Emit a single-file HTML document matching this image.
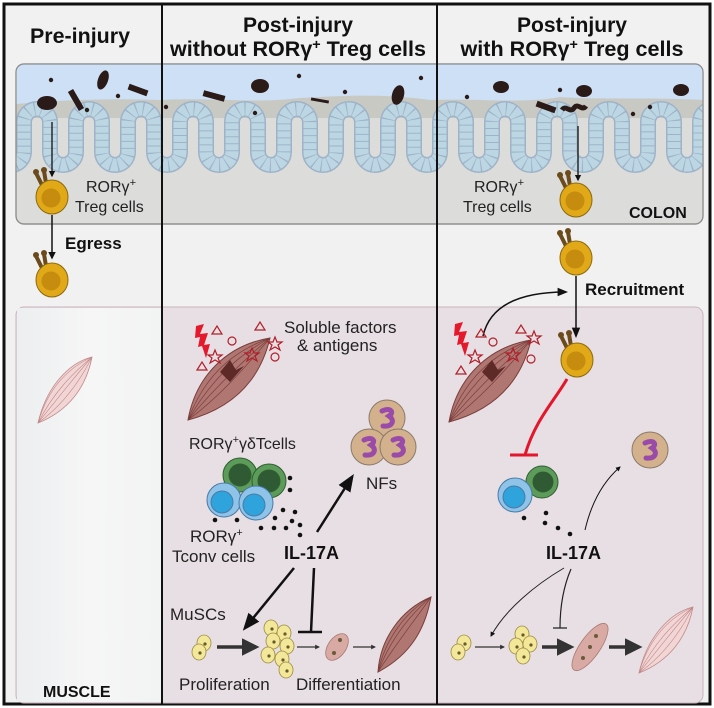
<!DOCTYPE html>
<html><head><meta charset="utf-8"><style>
html,body{margin:0;padding:0;background:#fff;}
svg{display:block;font-family:"Liberation Sans",sans-serif;}
</style></head><body>
<svg width="714" height="708" viewBox="0 0 714 708" xmlns="http://www.w3.org/2000/svg">
<defs>
<linearGradient id="lg" x1="0" x2="1"><stop offset="0" stop-color="#eceeef"/><stop offset="0.5" stop-color="#f6f6f6"/><stop offset="1" stop-color="#f2f3f3"/></linearGradient>
<clipPath id="cc"><rect x="16" y="64" width="687" height="160" rx="8"/></clipPath>
<path id="crypt" fill="none" d="M-2,122 v30 a13 13 0 0 0 26 0 v-30 a13 13 0 0 1 26 0 v30 a13 13 0 0 0 26 0 v-30 a13 13 0 0 1 26 0 v30 a13 13 0 0 0 26 0 v-30 a13 13 0 0 1 26 0 v30 a13 13 0 0 0 26 0 v-30 a13 13 0 0 1 26 0 v30 a13 13 0 0 0 26 0 v-30 a13 13 0 0 1 26 0 v30 a13 13 0 0 0 26 0 v-30 a13 13 0 0 1 26 0 v30 a13 13 0 0 0 26 0 v-30 a13 13 0 0 1 26 0 v30 a13 13 0 0 0 26 0 v-30 a13 13 0 0 1 26 0 v30 a13 13 0 0 0 26 0 v-30 a13 13 0 0 1 26 0 v30 a13 13 0 0 0 26 0 v-30 a13 13 0 0 1 26 0 v30 a13 13 0 0 0 26 0 v-30 a13 13 0 0 1 26 0 v30 a13 13 0 0 0 26 0 v-30 a13 13 0 0 1 26 0 v30 a13 13 0 0 0 26 0 v-30 a13 13 0 0 1 26 0 v30 a13 13 0 0 0 26 0 v-30 a13 13 0 0 1 26 0"/>
<marker id="ah" viewBox="0 0 10 10" refX="8" refY="5" markerWidth="5" markerHeight="5" orient="auto"><path d="M0,0 L10,5 L0,10 z" fill="#111"/></marker>
<marker id="ahs" viewBox="0 0 10 10" refX="8" refY="5" markerWidth="7" markerHeight="7" orient="auto"><path d="M0,1 L10,5 L0,9 z" fill="#111"/></marker>
<marker id="ahg" viewBox="0 0 10 10" refX="8" refY="5" markerWidth="4" markerHeight="4" orient="auto"><path d="M0,0 L10,5 L0,10 z" fill="#333"/></marker>
<marker id="ahd" viewBox="0 0 10 10" refX="8" refY="5" markerWidth="5" markerHeight="5" orient="auto"><path d="M0,0 L10,5 L0,10 z" fill="#333"/></marker>
<g id="treg"><path d="M-10,-12 L-16,-24 M-6,-14 L-8,-26" stroke="#6b4a1c" stroke-width="4" stroke-linecap="round"/><circle cx="-16" cy="-25" r="3" fill="#6b4a1c"/><circle cx="-8" cy="-27" r="3" fill="#6b4a1c"/><ellipse cx="0" cy="0" rx="16" ry="17" fill="#e1a917" stroke="#8a6a10" stroke-width="1"/><circle cx="-1" cy="1" r="9.5" fill="#c58c0f"/></g>
<g id="musc"><path d="M0,0 C8,-45 40,-75 82,-82 C72,-40 45,-12 0,0 z" fill="#b07672" stroke="#7a3f3c" stroke-width="1"/><path d="M0,0 C20,-35 45,-62 82,-82 M0,0 C25,-30 50,-55 82,-82 M0,0 C30,-22 55,-50 82,-82 M0,0 C15,-40 40,-67 82,-82" stroke="#7a3f3c" stroke-width="0.7" fill="none"/></g>
<g id="pmusc"><path d="M0,0 C8,-35 30,-60 54,-66 C48,-35 30,-12 0,0 z" fill="#f2d6d6" stroke="#c28a8a" stroke-width="0.8"/><path d="M0,0 C15,-30 35,-50 54,-66 M0,0 C20,-25 38,-48 54,-66 M0,0 C25,-18 42,-42 54,-66 M0,0 C10,-35 30,-55 54,-66" stroke="#c28a8a" stroke-width="0.6" fill="none"/></g>
<g id="nf"><circle r="18" fill="#d3b18c" stroke="#8a7a6a" stroke-width="1"/><path d="M-5,-7 C3,-11 8,-6 2,-2 C8,2 6,9 -4,8" stroke="#9a4aa8" stroke-width="5" fill="none" stroke-linecap="round"/></g>
<g id="yc"><ellipse rx="7" ry="8" fill="#f3e79a" stroke="#9a8a40" stroke-width="0.8"/><circle cx="1" cy="1" r="1.6" fill="#6a5a2a"/></g>
</defs>
<rect width="714" height="708" fill="#fff"/>
<rect x="4" y="4" width="706" height="700" fill="#f1f1f1" stroke="#111" stroke-width="3"/>
<!-- colon -->
<rect x="16" y="64" width="687" height="160" rx="8" fill="#dcdcdb" stroke="#8d8d8d" stroke-width="1.2"/>
<g clip-path="url(#cc)">
<rect x="16" y="64" width="687" height="48" fill="#cde0f5"/>
<path d="M16,104 C60,100 110,98 160,100 C220,97 250,104 300,98 C340,96 380,93 430,100 C480,98 520,104 560,97 C600,100 650,97 703,100 L703,118 L16,118 z" fill="#c9c9c4"/>
<use href="#crypt" stroke="#9fb3c8" stroke-width="16"/>
<use href="#crypt" stroke="#bcd7e3" stroke-width="13" stroke-dasharray="6 1"/>
</g>
<rect x="16" y="64" width="687" height="160" rx="8" fill="none" stroke="#8d8d8d" stroke-width="1.2"/>
<!-- microbes -->
<g fill="#2a1a18">
<circle cx="51" cy="80" r="2.2"/><circle cx="118" cy="96" r="2.2"/><circle cx="87" cy="110" r="2.2"/><circle cx="166" cy="107" r="2.2"/><circle cx="299" cy="76" r="2.2"/><circle cx="345" cy="92" r="2.2"/><circle cx="255" cy="113" r="2.2"/><circle cx="421" cy="78" r="2.2"/><circle cx="467" cy="97" r="2.2"/><circle cx="560" cy="90" r="2.2"/><circle cx="633" cy="114" r="2.2"/><circle cx="650" cy="107" r="2.2"/>
<rect x="65" y="97" width="22" height="6" transform="rotate(60 76 100)"/><rect x="128" y="87" width="20" height="6" transform="rotate(20 138 90)"/><ellipse cx="103" cy="80" rx="5" ry="10" transform="rotate(20 103 80)"/>
<rect x="203" y="93" width="22" height="6" transform="rotate(15 214 96)"/><rect x="311" y="99" width="18" height="3" transform="rotate(10 320 100)"/><ellipse cx="398" cy="95" rx="6" ry="10" transform="rotate(15 398 95)"/>
<rect x="536" y="104" width="20" height="6" transform="rotate(20 546 107)"/>
<ellipse cx="47" cy="103" rx="10" ry="7"/><ellipse cx="260" cy="86" rx="9" ry="7"/><ellipse cx="501" cy="87" rx="8" ry="6"/><ellipse cx="584" cy="91" rx="8" ry="6"/><ellipse cx="681" cy="90" rx="8" ry="6"/>
<path d="M562,110 c4,-6 8,4 12,-2 c4,-6 8,4 12,-2" stroke="#2a1a18" stroke-width="5" fill="none"/>
</g>
<!-- muscle boxes -->
<rect x="16" y="307" width="687" height="396" rx="8" fill="#e8dfe4" stroke="#c8b5bc" stroke-width="1"/>
<rect x="17" y="308" width="145" height="394" fill="url(#lg)"/>
<!-- dividers -->
<line x1="162" y1="4" x2="162" y2="704" stroke="#111" stroke-width="2"/>
<line x1="437" y1="4" x2="437" y2="704" stroke="#111" stroke-width="2"/>
<!-- headers -->
<g font-weight="bold" font-size="21" fill="#111" text-anchor="middle">
<text x="80" y="43" textLength="100" lengthAdjust="spacingAndGlyphs">Pre-injury</text>
<text x="298" y="32" textLength="110" lengthAdjust="spacingAndGlyphs">Post-injury</text>
<text x="298" y="56" textLength="256" lengthAdjust="spacingAndGlyphs">without RORγ<tspan font-size="14" dy="-7">+</tspan><tspan dy="7"> Treg cells</tspan></text>
<text x="572" y="32" textLength="110" lengthAdjust="spacingAndGlyphs">Post-injury</text>
<text x="572" y="56" textLength="223" lengthAdjust="spacingAndGlyphs">with RORγ<tspan font-size="14" dy="-7">+</tspan><tspan dy="7"> Treg cells</tspan></text>
</g>
<!-- left column -->
<line x1="52" y1="122" x2="52" y2="176" stroke="#111" stroke-width="1.3" marker-end="url(#ah)"/>
<use href="#treg" x="52" y="197"/>
<line x1="52" y1="215" x2="52" y2="258" stroke="#111" stroke-width="1.5" marker-end="url(#ah)"/>
<use href="#treg" x="52" y="280"/>
<g font-size="16" fill="#222"><text x="86" y="192">RORγ<tspan font-size="11" dy="-6">+</tspan></text><text x="75" y="212">Treg cells</text>
<text x="474" y="192">RORγ<tspan font-size="11" dy="-6">+</tspan></text><text x="463" y="212">Treg cells</text></g>
<text x="65" y="249" font-weight="bold" font-size="17" fill="#111">Egress</text>
<text x="629" y="218" font-weight="bold" font-size="16" fill="#111">COLON</text>
<use href="#pmusc" x="38" y="423"/>
<text x="43" y="697" font-weight="bold" font-size="16" fill="#111">MUSCLE</text>
<!-- right colon -->
<line x1="578" y1="126" x2="578" y2="180" stroke="#111" stroke-width="1.3" marker-end="url(#ah)"/>
<use href="#treg" x="576" y="200"/>
<use href="#treg" x="576" y="258"/>
<line x1="576" y1="276" x2="576" y2="336" stroke="#111" stroke-width="1.5" marker-end="url(#ahs)"/>
<text x="585" y="295" font-weight="bold" font-size="17" fill="#111">Recruitment</text>
<path d="M483,336 C490,305 520,292 566,292" stroke="#111" stroke-width="1.5" fill="none" marker-end="url(#ahs)"/>
<!-- middle muscle -->
<use href="#musc" x="188" y="420"/>
<path d="M220,372 l10,-12 l6,10 l8,-4 l-14,16 z" fill="#5e2a28"/>
<path d="M196,326 l8,-2 l-4,10 l8,-1 l-4,12 l6,-1 l-4,14 l-4,-12 l-4,1 l2,-10 l-5,1 z" fill="#e41a2c"/>
<g fill="none" stroke="#b0202a" stroke-width="1.2">
<path d="M212,334 l5,-8 l5,8 z"/><path d="M255,330 l5,-8 l5,8 z"/><path d="M197,370 l5,-8 l5,8 z"/>
<circle cx="232" cy="341" r="4"/><circle cx="275" cy="357" r="4"/>
<path d="M275,337 l2,5 l5,0 l-4,3 l2,5 l-5,-3 l-5,3 l2,-5 l-4,-3 l5,0 z"/><path d="M215,350 l2,5 l5,0 l-4,3 l2,5 l-5,-3 l-5,3 l2,-5 l-4,-3 l5,0 z"/><path d="M252,348 l2,5 l5,0 l-4,3 l2,5 l-5,-3 l-5,3 l2,-5 l-4,-3 l5,0 z"/>
</g>
<g font-size="17" fill="#222"><text x="284" y="333">Soluble factors</text><text x="297" y="351">&amp; antigens</text></g>
<use href="#nf" x="387" y="418"/><use href="#nf" x="369" y="447"/><use href="#nf" x="398" y="447"/>
<text x="366" y="489" font-size="17" fill="#222">NFs</text>
<text x="189" y="449" font-size="16" fill="#222">RORγ<tspan font-size="11" dy="-6">+</tspan><tspan dy="6">γδTcells</tspan></text>
<g stroke="#2f5f2f" stroke-width="1"><circle cx="240" cy="475" r="17" fill="#5c9b5a"/><circle cx="240" cy="475" r="11" fill="#2f5a33"/><circle cx="269" cy="481" r="17" fill="#5c9b5a"/><circle cx="269" cy="481" r="11" fill="#2f5a33"/></g>
<g stroke="#4a7aa8" stroke-width="1"><circle cx="224" cy="500" r="17" fill="#8fc4e8"/><circle cx="222" cy="502" r="11" fill="#2ea3dc"/><circle cx="256" cy="503" r="17" fill="#8fc4e8"/><circle cx="254" cy="505" r="11" fill="#2ea3dc"/></g>
<g fill="#111"><circle cx="290" cy="478" r="2.3"/><circle cx="290" cy="490" r="2.3"/><circle cx="283" cy="510" r="2.3"/><circle cx="295" cy="512" r="2.3"/><circle cx="275" cy="518" r="2.3"/><circle cx="292" cy="521" r="2.3"/><circle cx="300" cy="525" r="2.3"/><circle cx="215" cy="520" r="2.3"/><circle cx="237" cy="520" r="2.3"/><circle cx="261" cy="528" r="2.3"/><circle cx="274" cy="528" r="2.3"/><circle cx="286" cy="528" r="2.3"/><circle cx="300" cy="535" r="2.3"/></g>
<g font-size="17" fill="#222"><text x="190" y="542">RORγ<tspan font-size="11" dy="-6">+</tspan></text><text x="172" y="562">Tconv cells</text></g>
<text x="284" y="559" font-weight="bold" font-size="18" fill="#111">IL-17A</text>
<line x1="317" y1="532" x2="352" y2="477" stroke="#111" stroke-width="2.5" marker-end="url(#ahs)"/>
<line x1="294" y1="568" x2="245" y2="628" stroke="#111" stroke-width="2.5" marker-end="url(#ahs)"/>
<path d="M314,568 L311,632 M298,632 L322,632" stroke="#111" stroke-width="2.5" fill="none"/>
<text x="170" y="620" font-size="17" fill="#222">MuSCs</text>
<use href="#yc" x="204" y="643"/><use href="#yc" x="199" y="652"/>
<line x1="217" y1="647" x2="256" y2="647" stroke="#333" stroke-width="3.5" marker-end="url(#ahd)"/>
<use href="#yc" x="271" y="628"/><use href="#yc" x="284" y="633"/><use href="#yc" x="273" y="641"/><use href="#yc" x="287" y="646"/><use href="#yc" x="268" y="655"/><use href="#yc" x="282" y="659"/><use href="#yc" x="286" y="670"/>
<line x1="297" y1="647" x2="319" y2="647" stroke="#333" stroke-width="1.2" marker-end="url(#ahg)"/>
<ellipse cx="337" cy="647" rx="9" ry="15" transform="rotate(35 337 647)" fill="#d9a9a3" stroke="#a87a75" stroke-width="0.8"/><circle cx="340" cy="640" r="2" fill="#6a5a3a"/><circle cx="334" cy="653" r="2" fill="#6a5a3a"/>
<line x1="353" y1="647" x2="375" y2="647" stroke="#333" stroke-width="1.2" marker-end="url(#ahg)"/>
<path d="M378,672 C380,640 400,610 431,597 C425,630 410,655 378,672 z" fill="#b07672" stroke="#7a3f3c" stroke-width="1"/>
<path d="M378,672 C390,640 410,615 431,597 M378,672 C395,645 415,620 431,597 M378,672 C385,640 405,612 431,597" stroke="#7a3f3c" stroke-width="0.7" fill="none"/>
<g font-size="17" fill="#222"><text x="179" y="690">Proliferation</text><text x="296" y="690">Differentiation</text></g>
<!-- right muscle -->
<use href="#musc" x="449" y="422"/>
<path d="M482,372 l10,-12 l6,10 l8,-4 l-14,16 z" fill="#5e2a28"/>
<path d="M455,324 l8,-2 l-4,10 l8,-1 l-4,12 l6,-1 l-4,14 l-4,-12 l-4,1 l2,-10 l-5,1 z" fill="#e41a2c"/>
<g fill="none" stroke="#b0202a" stroke-width="1.2">
<path d="M476,337 l5,-8 l5,8 z"/><path d="M516,333 l5,-8 l5,8 z"/><path d="M456,374 l5,-8 l5,8 z"/>
<circle cx="493" cy="342" r="4"/><circle cx="531" cy="359" r="4"/>
<path d="M534,331 l2,5 l5,0 l-4,3 l2,5 l-5,-3 l-5,3 l2,-5 l-4,-3 l5,0 z"/><path d="M475,350 l2,5 l5,0 l-4,3 l2,5 l-5,-3 l-5,3 l2,-5 l-4,-3 l5,0 z"/><path d="M513,348 l2,5 l5,0 l-4,3 l2,5 l-5,-3 l-5,3 l2,-5 l-4,-3 l5,0 z"/>
</g>
<use href="#treg" x="577" y="360"/>
<path d="M567,379 C555,400 535,420 525,455 M510,455 L538,455" stroke="#e4162b" stroke-width="3" fill="none"/>
<g stroke="#2f5f2f" stroke-width="1"><circle cx="542" cy="482" r="16" fill="#5c9b5a"/><circle cx="543" cy="482" r="10" fill="#2f5a33"/></g>
<g stroke="#4a7aa8" stroke-width="1"><circle cx="515" cy="495" r="17" fill="#8fc4e8"/><circle cx="514" cy="497" r="11" fill="#2ea3dc"/></g>
<g fill="#111"><circle cx="524" cy="518" r="2.3"/><circle cx="546" cy="513" r="2.3"/><circle cx="545" cy="523" r="2.3"/><circle cx="558" cy="528" r="2.3"/><circle cx="570" cy="534" r="2.3"/></g>
<use href="#nf" x="650" y="450"/>
<path d="M585,530 C592,500 605,480 620,467" stroke="#111" stroke-width="1" fill="none" marker-end="url(#ah)"/>
<text x="546" y="559" font-weight="bold" font-size="18" fill="#111">IL-17A</text>
<path d="M564,568 C535,585 505,610 491,636" stroke="#222" stroke-width="1" fill="none" marker-end="url(#ah)"/>
<path d="M571,569 C562,590 560,610 560,628 M553,628 L567,628" stroke="#222" stroke-width="1.2" fill="none"/>
<use href="#yc" x="464" y="643"/><use href="#yc" x="458" y="652"/>
<line x1="475" y1="647" x2="504" y2="647" stroke="#333" stroke-width="1.2" marker-end="url(#ahg)"/>
<use href="#yc" x="522" y="634"/><use href="#yc" x="516" y="646"/><use href="#yc" x="530" y="644"/><use href="#yc" x="523" y="656"/>
<line x1="542" y1="647" x2="571" y2="647" stroke="#333" stroke-width="3.5" marker-end="url(#ahd)"/>
<ellipse cx="590" cy="647" rx="10" ry="28" transform="rotate(35 590 647)" fill="#d9a9a3" stroke="#a87a75" stroke-width="0.8"/><circle cx="596" cy="636" r="2" fill="#6a5a3a"/><circle cx="590" cy="647" r="2" fill="#6a5a3a"/><circle cx="583" cy="658" r="2" fill="#6a5a3a"/>
<line x1="609" y1="647" x2="639" y2="647" stroke="#333" stroke-width="3.5" marker-end="url(#ahd)"/>
<use href="#pmusc" x="639" y="673"/>
</svg>
</body></html>
